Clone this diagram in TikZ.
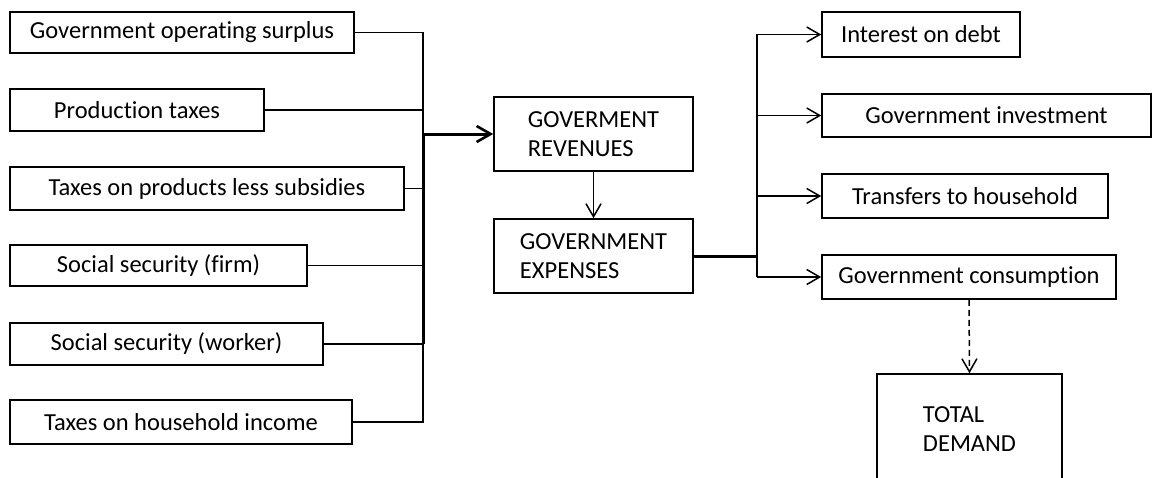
\documentclass[tikz,border=0pt]{standalone}
\usepackage{fontspec}
\setmainfont{Carlito}[Ligatures=NoCommon]
\usetikzlibrary{arrows.meta}
\begin{document}
\begin{tikzpicture}[x=1pt,y=-1pt,
  box/.style={draw, line width=1.6pt, inner sep=0pt, font=\fontsize{24.5}{29}\selectfont},
  multi/.style={box, align=left},
  link/.style={line width=1.5pt},
  heavy/.style={line width=3pt},
  tip/.style={-{Straight Barb[length=13pt,width=15pt,line width=1.5pt]}},
  heavytip/.style={-{Straight Barb[length=14pt,width=16pt,line width=2.6pt]}}]
\useasboundingbox (0,0) rectangle (1153,477);
\clip (0,0) rectangle (1153,477);
% left sources
\node[box, minimum width=344pt, minimum height=41pt] (g1) at (182,32.5) {Government operating surplus};
\node[box, minimum width=254pt, minimum height=42pt] (g2) at (137,110) {Production taxes};
\node[box, minimum width=394pt, minimum height=43pt] (g3) at (207,188.5) {Taxes on products less subsidies};
\node[box, minimum width=297pt, minimum height=41pt] (g4) at (158.5,265.5) {Social security (firm)};
\node[box, minimum width=313pt, minimum height=42pt] (g5) at (166.5,344) {Social security (worker)};
\node[box, minimum width=342pt, minimum height=44pt] (g6) at (181,422) {Taxes on household income};
% middle
\node[multi, minimum width=199pt, minimum height=74pt] (rev) at (593.5,134) {GOVERMENT\\REVENUES};
\node[multi, minimum width=199pt, minimum height=74pt] (exp) at (593.5,256) {GOVERNMENT\\EXPENSES};
% right
\node[box, minimum width=198pt, minimum height=45pt] (int) at (921,34.5) {Interest on debt};
\node[box, minimum width=329pt, minimum height=43pt] (inv) at (986.5,115.5) {Government investment};
\node[box, minimum width=286pt, minimum height=44pt] (tra) at (965,196) {Transfers to household};
\node[box, minimum width=294pt, minimum height=44pt] (con) at (969,277) {Government consumption};
\node[multi, minimum width=185pt, minimum height=110pt] (tot) at (969.5,429) {TOTAL\\DEMAND};
% left bus
\coordinate (lt) at (423,32.5);
\coordinate (ja) at (423,134);
\draw[link] (g1.east) -- (lt) -- (lt |- g6.east) -- (g6.east);
\draw[link] (g2.east) -- (g2.east -| lt);
\draw[link] (g3.east) -- (g3.east -| lt);
\draw[link] (g4.east) -- (g4.east -| lt);
\draw[link] (g5.east) -- (g5.east -| lt);
\draw[heavy] (ja) -- (ja |- g5.east);
\draw[heavy, heavytip] (ja) -- (rev.west);
\draw[link, tip] (rev.south) -- (exp.north);
% right bus
\coordinate (rt) at (757,34.5);
\draw[heavy] (exp.east) -- (exp.east -| rt);
\draw[link, tip] (con.west -| rt) -- (rt) -- (int.west);
\draw[link, tip] (con.west -| rt) -- (con.west);
\draw[link, tip] (inv.west -| rt) -- (inv.west);
\draw[link, tip] (tra.west -| rt) -- (tra.west);
\draw[link, tip, dash pattern=on 6pt off 4pt] (con.south) -- (tot.north);
\end{tikzpicture}
\end{document}
